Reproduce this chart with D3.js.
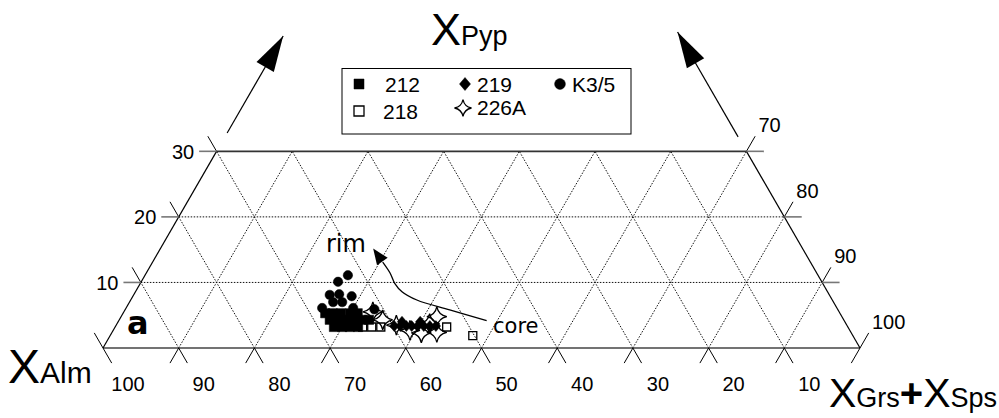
<!DOCTYPE html>
<html>
<head>
<meta charset="utf-8">
<script src="https://cdn.jsdelivr.net/npm/d3@7"></script>
<style>
    body { margin: 0; background: #fff; }
    svg { display: block; font-family: "Liberation Sans", Arial, sans-serif; }
    .grid { fill: none; stroke: #111; stroke-width: 1; stroke-dasharray: 1.5 1.5; }
    .edge { fill: none; stroke: #000; stroke-width: 1.2; }
    .tick { fill: none; stroke: #000; stroke-width: 1; }
    .htick { fill: none; stroke: #777; stroke-width: 1.6; }
    .lbl { font-size: 20px; fill: #000; }
    .note { font-family: "DejaVu Sans", sans-serif; fill: #000; }
</style>
</head>
<body>
<div id="root"></div>
<script>
const WIDTH = 999;
const HEIGHT = 418;

// garnet compositions, [XPyp, XGrs+XSps] in mol %  (XAlm = 100 - both)
const s212 = [[5.3, 26.7], [5.3, 27.7], [5.3, 28.8], [5.3, 30.0], [5.3, 31.0],
    [4.3, 27.8], [4.3, 28.9], [4.3, 29.9], [4.3, 31.0], [4.3, 32.1], [4.3, 33.0],
    [3.2, 28.9], [3.2, 30.0], [3.2, 31.0], [3.2, 32.1]];
const s218 = [[3.2, 32.7], [3.2, 33.9], [3.2, 35.1], [3.2, 43.8], [1.9, 47.9]];
const s219 = [[3.35, 36.8], [3.35, 37.6], [3.35, 38.4], [3.35, 39.1], [3.35, 39.9],
    [3.35, 40.7], [3.35, 41.5], [3.35, 42.3], [4.0, 37.5], [4.0, 39.9]];
const s226A = [[5.5, 32.9], [4.3, 34.8], [3.5, 37.0], [2.7, 39.2], [2.3, 40.9],
    [3.7, 41.3], [2.4, 42.9], [4.8, 41.7]];
const sK35 = [[11.1, 26.8], [10.1, 26.0], [8.1, 25.9], [8.2, 27.1], [7.9, 28.9],
    [7.0, 26.9], [7.0, 28.1], [6.1, 25.9], [6.1, 30.0], [5.9, 32.9]];

// rim -> core trend, same coordinates
const trend = [[4.16, 48.6], [5.8, 42.9], [7.32, 37.8], [8.59, 35.2], [9.87, 33.6],
    [11.44, 32.2], [13.1, 30.4], [15.18, 28.1]];

const pypTicks = [10, 20, 30];
const grsTicks = [70, 80, 90, 100];
const almTicks = [100, 90, 80, 70, 60, 50, 40, 30, 20, 10];
const PMAX = 30;

// base of the triangle on screen
const x = d3.scaleLinear().domain([0, 100]).range([103, 860]);
const unit = (x(100) - x(0)) / 100;
const y = d3.scaleLinear().domain([0, PMAX]).range([348, 348 - PMAX * unit * Math.sqrt(3) / 2]);

const P = (p, g) => [x(g + p / 2), y(p)];
const L = 2.3; // tick length in % units

const svg = d3.select('#root').append('svg')
    .attr('width', WIDTH)
    .attr('height', HEIGHT);

const seg = (a, b) => svg.append('line')
    .attr('x1', a[0]).attr('y1', a[1]).attr('x2', b[0]).attr('y2', b[1]);

// dotted grid
pypTicks.filter(p => p < PMAX).forEach(p => seg(P(p, 0), P(p, 100 - p)).attr('class', 'grid'));
d3.range(10, 100, 10).forEach(g => {
    const top = Math.min(PMAX, 100 - g);
    seg(P(0, g), P(top, g)).attr('class', 'grid');                       // constant Grs+Sps
    seg(P(0, 100 - g), P(top, 100 - g - top)).attr('class', 'grid');     // constant Alm
});

// frame
seg(P(0, 0), P(0, 100)).attr('class', 'edge').style('stroke', '#444').style('stroke-width', 1.6);
seg(P(PMAX, 0), P(PMAX, 100 - PMAX)).attr('class', 'edge').style('stroke', '#333').style('stroke-width', 1.8);
seg(P(0, 0), P(PMAX, 0)).attr('class', 'edge');
seg(P(0, 100), P(PMAX, 100 - PMAX)).attr('class', 'edge');

// bottom ticks
d3.range(10, 101, 10).forEach(g => seg(P(0, g), P(-L, g)).attr('class', 'tick'));
d3.range(0, 91, 10).forEach(g => seg(P(0, g), P(-L, g + L)).attr('class', 'tick'));
// left ticks
[0].concat(pypTicks).forEach(p => seg(P(p, 0), P(p + L, -L)).attr('class', 'tick'));
pypTicks.forEach(p => seg(P(p, 0), P(p, -L)).attr('class', 'htick'));
// right ticks
[0].concat(pypTicks).forEach(p => seg(P(p, 100 - p), P(p + L, 100 - p)).attr('class', 'tick'));
pypTicks.forEach(p => seg(P(p, 100 - p), P(p, 100 - p + L)).attr('class', 'htick'));

// tick labels
svg.selectAll('.lblL').data(pypTicks).enter().append('text')
    .attr('class', 'lbl')
    .attr('x', d => P(d, -L)[0] - 5)
    .attr('y', d => y(d))
    .attr('dy', '0.36em')
    .style('text-anchor', 'end')
    .text(d => d);

svg.selectAll('.lblR').data(grsTicks).enter().append('text')
    .attr('class', 'lbl')
    .attr('x', d => P(100 - d, d)[0] + 12)
    .attr('y', d => y(100 - d) - 19)
    .text(d => d);

svg.selectAll('.lblB').data(almTicks).enter().append('text')
    .attr('class', 'lbl')
    .attr('x', d => x(100 - d) + 25)
    .attr('y', 391)
    .style('text-anchor', 'middle')
    .text(d => d);

// axis titles
const title = (tx, ty, parts) => {
    const t = svg.append('text').attr('x', tx).attr('y', ty);
    parts.forEach(([s, size, weight]) => t.append('tspan')
        .style('font-size', size + 'px')
        .style('font-weight', weight || 'normal')
        .text(s));
};
title(431, 45, [['X', 45], ['Pyp', 27]]);
title(8, 383, [['X', 48], ['Alm', 30]]);
title(829, 407, [['X', 41], ['Grs', 27], ['+', 40, 'bold'], ['X', 41], ['Sps', 27]]);

// direction arrows along the extended edges
const arrowHead = (tip, from, len, half) => {
    const dx = tip[0] - from[0], dy = tip[1] - from[1];
    const n = Math.hypot(dx, dy), ux = dx / n, uy = dy / n;
    const bx = tip[0] - ux * len, by = tip[1] - uy * len;
    svg.append('path')
        .attr('d', `M${tip[0]},${tip[1]}L${bx - uy * half},${by + ux * half}L${bx + uy * half},${by - ux * half}Z`)
        .attr('fill', '#000');
};
[[P(32.8, 0), P(47.6, 0)], [P(32.2, 100 - 32.2), P(48.2, 100 - 48.2)]].forEach(([a, b]) => {
    seg(a, b).attr('class', 'tick').style('stroke-width', 1.2);
    arrowHead(b, a, 36, 10);
});

// trend arrow
const tp = trend.map(d => P(d[0], d[1]));
svg.append('path')
    .attr('d', d3.line().curve(d3.curveCatmullRom)(tp.slice(0, -1)))
    .attr('fill', 'none')
    .attr('stroke', '#000')
    .attr('stroke-width', 1.3);
arrowHead(tp[tp.length - 1], tp[tp.length - 2], 16, 6.5);

svg.append('text').attr('class', 'note').attr('x', 326).attr('y', 252).style('font-size', '24px').text('rim');
svg.append('text').attr('class', 'note').attr('x', 493).attr('y', 333).style('font-size', '21px').text('core');
svg.append('text').attr('class', 'note').attr('x', 127).attr('y', 334)
    .style('font-size', '32px').style('font-weight', 'bold').text('a');

// marker shapes
const square = { draw(c, r) { c.rect(-r, -r, 2 * r, 2 * r); } };
const circle = { draw(c, r) { c.moveTo(r, 0); c.arc(0, 0, r, 0, 2 * Math.PI); } };
const diamond = { draw(c, r) { c.moveTo(0, -r); c.lineTo(r * 0.85, 0); c.lineTo(0, r); c.lineTo(-r * 0.85, 0); c.closePath(); } };
const star4 = { draw(c, r) {
    const k = r * 0.16;
    c.moveTo(0, -r);
    c.quadraticCurveTo(k, -k, r, 0);
    c.quadraticCurveTo(k, k, 0, r);
    c.quadraticCurveTo(-k, k, -r, 0);
    c.quadraticCurveTo(-k, -k, 0, -r);
    c.closePath();
} };

const series = [
    { name: '212', data: s212, type: square, r: 4.6, lr: 5, filled: true, lx: 359, ly: 84 },
    { name: '218', data: s218, type: square, r: 4, lr: 5, filled: false, lx: 359, ly: 111 },
    { name: '219', data: s219, type: diamond, r: 5.5, lr: 6.5, filled: true, lx: 465, ly: 84 },
    { name: '226A', data: s226A, type: star4, r: 10, lr: 8.5, filled: false, lx: 463, ly: 108 },
    { name: 'K3/5', data: sK35, type: circle, r: 4.7, lr: 5.4, filled: true, lx: 560, ly: 84 }
];

series.forEach(s => {
    svg.append('g').selectAll('path')
        .data(s.data)
        .enter().append('path')
        .attr('transform', d => `translate(${P(d[0], d[1])})`)
        .attr('d', d3.symbol().type(s.type).size(s.r))
        .attr('fill', s.filled ? '#000' : 'none')
        .attr('stroke', '#000')
        .attr('stroke-width', s.filled ? 0.5 : 1.3);
});

// legend
const legend = svg.append('g');
legend.append('rect')
    .attr('x', 342).attr('y', 68.5).attr('width', 289).attr('height', 65.5)
    .attr('fill', '#fff').attr('stroke', '#000').attr('stroke-width', 1);

const item = legend.selectAll('.item')
    .data(series)
    .enter().append('g')
    .attr('transform', d => `translate(${d.lx}, ${d.ly})`);

item.append('path')
    .attr('d', d => d3.symbol().type(d.type).size(d.lr)())
    .attr('fill', d => d.filled ? '#000' : 'none')
    .attr('stroke', '#000')
    .attr('stroke-width', d => d.filled ? 0.5 : 1.3);

item.append('text')
    .attr('x', d => d.type === star4 ? 14 : d.name === '218' ? 24 : d.type === square ? 26 : 12)
    .attr('y', d => d.type === star4 ? 7 : 7.5)
    .style('font-size', '21px')
    .text(d => d.name);
</script>
</body>
</html>
